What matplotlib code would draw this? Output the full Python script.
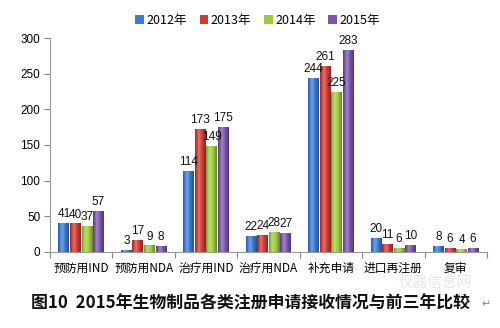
import numpy as np
import matplotlib
matplotlib.use("Agg")
import matplotlib.pyplot as plt
from matplotlib.colors import to_rgb

categories = ["预防用IND", "预防用NDA", "治疗用IND", "治疗用NDA", "补充申请", "进口再注册", "复审"]
years = ["2012年", "2013年", "2014年", "2015年"]
v2012 = [41, 3, 114, 22, 244, 20, 8]
v2013 = [40, 17, 173, 24, 261, 11, 6]
v2014 = [37, 9, 149, 28, 225, 6, 4]
v2015 = [57, 8, 175, 27, 283, 10, 6]
series = [v2012, v2013, v2014, v2015]
colors = ["#3A7BD5", "#D23A32", "#9CCB3C", "#7B55AE"]
yticks = [0, 50, 100, 150, 200, 250, 300]
title = "图10  2015年生物制品各类注册申请接收情况与前三年比较"

cjk = ["Noto Sans CJK SC", "DejaVu Sans"]
num = ["Liberation Sans", "DejaVu Sans"]

fig = plt.figure(figsize=(5.0, 3.28), dpi=100)
fig.patch.set_facecolor("white")
ax = fig.add_axes([0.100, 0.232, 0.874, 0.652])

x = np.arange(len(categories))
w = 0.185
offsets = (np.arange(4) - 1.5) * w

def shade(c, f):
    r = np.array(to_rgb(c))
    if f >= 0:
        return r + (1 - r) * f
    return r * (1 + f)

for i, (vals, c) in enumerate(zip(series, colors)):
    bars = ax.bar(x + offsets[i], vals, width=w * 0.94, color=c, label=years[i],
                  zorder=2, linewidth=0)
    for b, v in zip(bars, vals):
        bx, by = b.get_x(), b.get_y()
        bw, bh = b.get_width(), b.get_height()
        t = np.linspace(0, 1, 40)
        prof = np.where(t < 0.35, -0.25 + (t / 0.35) * 0.55, 0.30 - (t - 0.35) / 0.65 * 0.65)
        grad = np.array([[np.append(np.clip(shade(c, p), 0, 1), 1.0) for p in prof]])
        im = ax.imshow(grad, extent=[bx, bx + bw, by, by + bh], aspect="auto",
                       zorder=3, interpolation="bilinear")
        im.set_clip_path(b)
        ax.text(bx + bw / 2, v + 4, str(v), ha="center", va="bottom",
                fontsize=8.5, family=num, color="#111111", zorder=5)

ax.set_xlim(-0.5, len(categories) - 0.5)
ax.set_ylim(0, 300)
ax.set_yticks(yticks)
ax.set_yticklabels([str(t) for t in yticks], family=num, fontsize=8.5)
ax.set_xticks(np.arange(len(categories) + 1) - 0.5)
ax.set_xticklabels([])
ax.set_xticks(x, minor=True)
ax.set_xticklabels(categories, minor=True, family=cjk, fontsize=8.5)
ax.tick_params(axis="x", which="minor", length=0, pad=7)
ax.tick_params(axis="x", which="major", length=4, color="#888888", direction="out")
ax.tick_params(axis="y", length=4, color="#888888", direction="out", pad=3)
for s in ["top", "right"]:
    ax.spines[s].set_visible(False)
ax.spines["left"].set_color("#999999")
ax.spines["bottom"].set_color("#999999")
ax.set_facecolor("white")

leg = fig.legend(loc="center", bbox_to_anchor=(0.515, 0.939), ncol=4, frameon=False,
                 prop={"family": cjk, "size": 9}, handlelength=0.7, handleheight=0.7,
                 handletextpad=0.2, columnspacing=1.0)

fig.text(0.062, 0.075, title, family=cjk, fontsize=12.2, fontweight="bold",
         ha="left", va="center", color="#111111")
fig.text(0.962, 0.072, "↵", family=["DejaVu Sans"], fontsize=8, color="#888888",
         ha="left", va="center")
fig.text(0.87, 0.137, "仪器信息网", family=cjk, fontsize=10.5, color="#e6e6e6",
         ha="center", va="center", zorder=0)

fig.savefig("out.png", dpi=100, facecolor="white")
